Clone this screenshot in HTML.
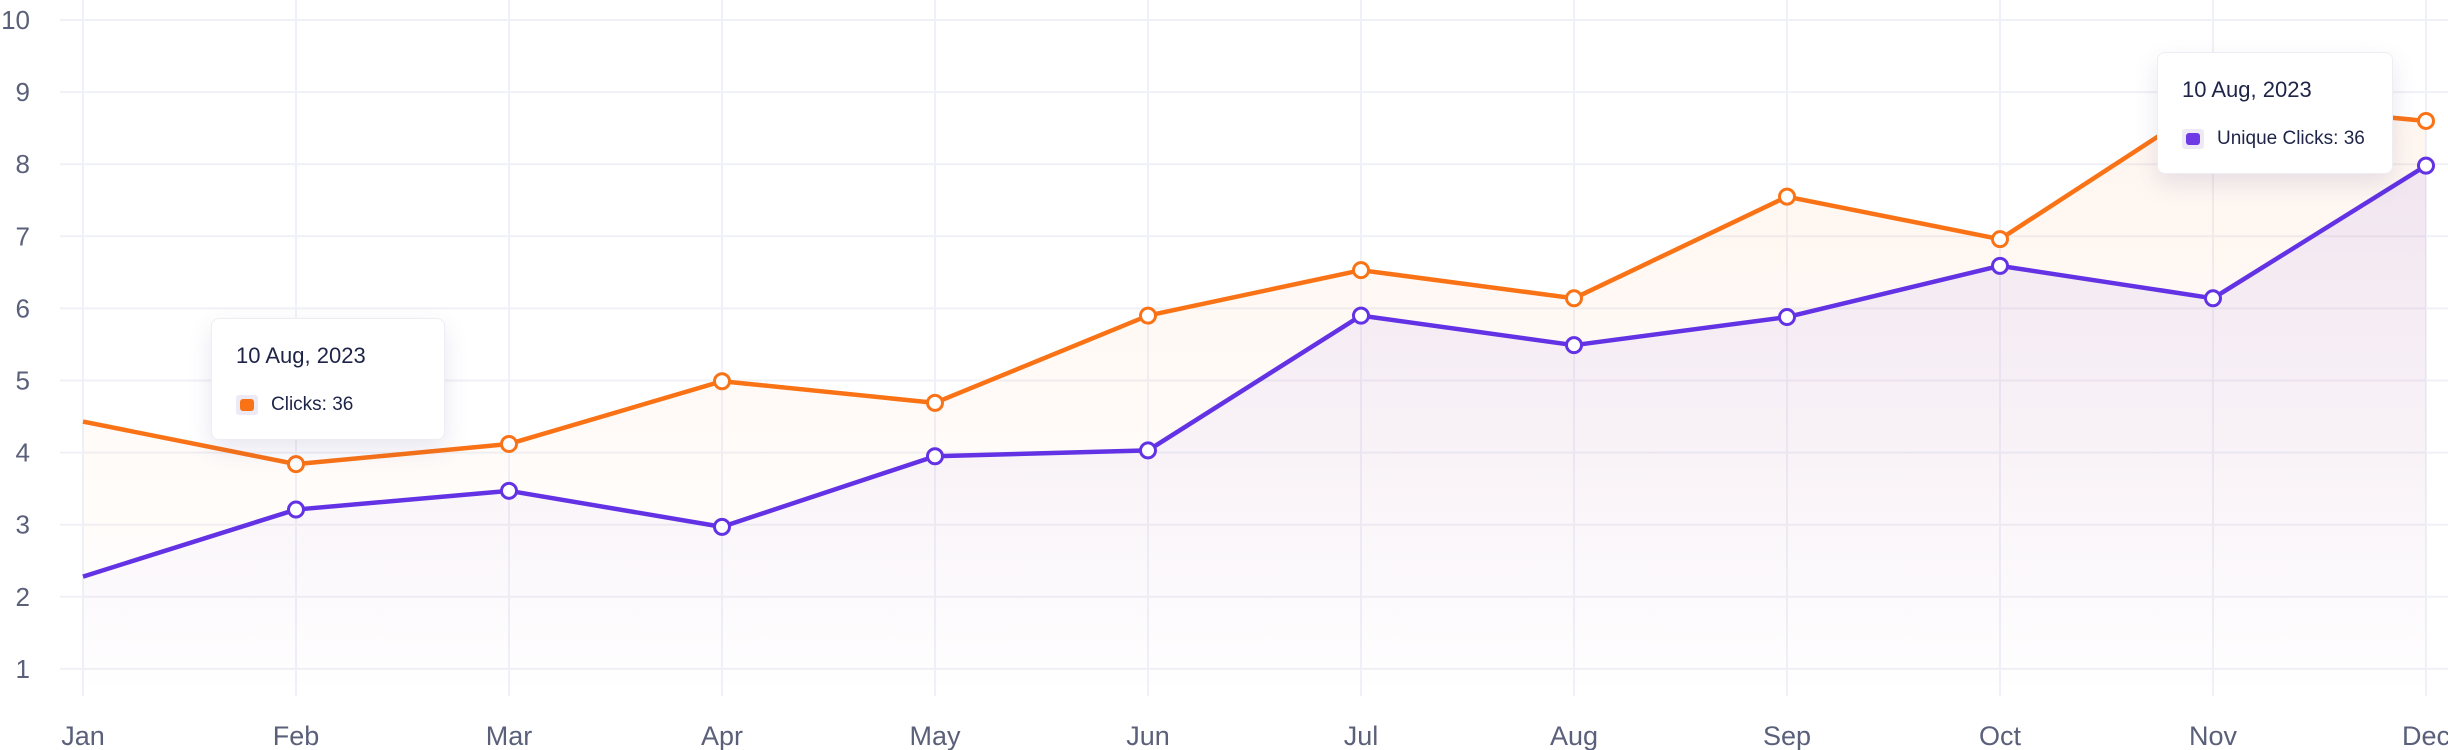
<!DOCTYPE html>
<html><head><meta charset="utf-8"><style>
html,body{margin:0;padding:0;background:#fff;}
svg{display:block;font-family:"Liberation Sans",sans-serif;}
.tt{position:absolute;background:#fff;border:1px solid #eceef3;border-radius:8px;box-shadow:0 10px 24px rgba(80,70,140,0.13);font-family:"Liberation Sans",sans-serif;color:#1e2447;}
</style></head><body>
<div style="position:relative;width:2448px;height:750px;overflow:hidden">
<svg id="chart" width="2448" height="750" viewBox="0 0 2448 750">
<defs>
<linearGradient id="gO" x1="0" y1="0" x2="0" y2="1"><stop offset="0" stop-color="#f97316" stop-opacity="0.07"/><stop offset="1" stop-color="#f97316" stop-opacity="0"/></linearGradient>
<linearGradient id="gP" x1="0" y1="0" x2="0" y2="1"><stop offset="0" stop-color="#6d3ae6" stop-opacity="0.09"/><stop offset="0.8" stop-color="#6d3ae6" stop-opacity="0.02"/><stop offset="1" stop-color="#6d3ae6" stop-opacity="0"/></linearGradient>
</defs>
<g id="grid"></g><g id="areas"></g><g id="lines"></g><g id="labels"></g>
</svg>
<div class="tt" style="left:211px;top:318px;width:232px;height:120px">
<div style="position:absolute;left:24px;top:24px;font-size:22px">10 Aug, 2023</div>
<div style="position:absolute;left:24px;top:76px;width:22px;height:20px;background:#eeeaf5;border-radius:3px"><div style="margin:4px 4px;width:14px;height:12px;background:#f97316;border-radius:3px"></div></div>
<div style="position:absolute;left:59px;top:75px;font-size:19px">Clicks: 36</div>
</div>
<div class="tt" style="left:2157px;top:52px;width:234px;height:120px">
<div style="position:absolute;left:24px;top:24px;font-size:22px">10 Aug, 2023</div>
<div style="position:absolute;left:24px;top:76px;width:22px;height:20px;background:#eeeaf5;border-radius:3px"><div style="margin:4px 4px;width:14px;height:12px;background:#6d3ae6;border-radius:3px"></div></div>
<div style="position:absolute;left:59px;top:75px;font-size:19px">Unique Clicks: 36</div>
</div>
</div>
<script>
const months=["Jan","Feb","Mar","Apr","May","Jun","Jul","Aug","Sep","Oct","Nov","Dec"];
const clicks=[4.43,3.84,4.12,4.99,4.69,5.9,6.53,6.14,7.55,6.96,8.88,8.6];
const uniqueClicks=[2.28,3.21,3.47,2.97,3.95,4.03,5.9,5.49,5.88,6.59,6.14,7.98];
const yTicks=[1,2,3,4,5,6,7,8,9,10];
const NS="http://www.w3.org/2000/svg";
const X=i=>83+i*213;
const Y=v=>20+(10-v)*72.1;
function mk(t,a,p){const e=document.createElementNS(NS,t);for(const k in a)e.setAttribute(k,a[k]);p.appendChild(e);return e;}
const grid=document.getElementById('grid'),labels=document.getElementById('labels'),areas=document.getElementById('areas'),lines=document.getElementById('lines');
yTicks.forEach(v=>{
 const l=mk('line',{x1:60,x2:2448,y1:Y(v),y2:Y(v),stroke:'#f0f1f6','stroke-width':2},grid);
 
 
 const t=mk('text',{x:30,y:Y(v)+9,'text-anchor':'end','font-size':26,fill:'#5b607a','font-weight':500},labels);
 t.textContent=v;
 
 
});
months.forEach((m,i)=>{
 const l=mk('line',{x1:X(i),x2:X(i),y1:0,y2:696,stroke:'#f0f1f8','stroke-width':2},grid);
 
 
 const t=mk('text',{x:X(i),y:745,'text-anchor':'middle','font-size':27,fill:'#5b607a'},labels);
 t.textContent=m;
 
 
});
function series(vals,color,grad,name){
 const pts=vals.map((v,i)=>X(i)+','+Y(v)).join(' ');
 const a=mk('polygon',{points:X(0)+',696 '+pts+' '+X(vals.length-1)+',696',fill:'url(#'+grad+')'},areas);
 
 
 const l=mk('polyline',{points:pts,fill:'none',stroke:color,'stroke-width':4.5,'stroke-linejoin':'round'},lines);
 
 
 vals.forEach((v,i)=>{
  if(i===0)return;
  const c=mk('circle',{cx:X(i),cy:Y(v),r:7.5,fill:'#fff',stroke:color,'stroke-width':3},lines);
  
  
 });
}
series(clicks,'#f97316','gO','clicks');
series(uniqueClicks,'#6232e4','gP','unique-clicks');
</script>
</body></html>
